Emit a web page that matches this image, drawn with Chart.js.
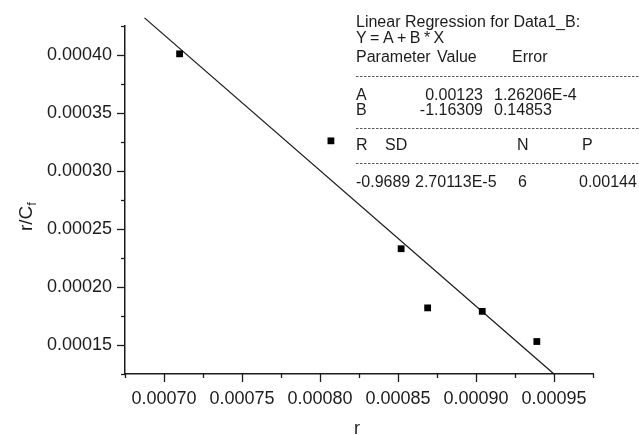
<!DOCTYPE html>
<html>
<head>
<meta charset="utf-8">
<script src="https://cdn.jsdelivr.net/npm/chart.js@4.4.0/dist/chart.umd.min.js"></script>
<style>
    html, body { margin: 0; padding: 0; background: #fff; }
</style>
</head>
<body>
<canvas id="regChart" width="639" height="435"></canvas>
<script>
// Measured data (r vs r/Cf)
const rValues = [0.000710, 0.000807, 0.000852, 0.000869, 0.000904, 0.000939];
const rcfValues = [0.000401, 0.000326, 0.000233, 0.000182, 0.000179, 0.000153];

// Fitted line end points
const fitX = [0.0006875, 0.00095];
const fitY = [0.000432, 0.000125];

// Axis ranges and labelled ticks
const xRange = [0.000675, 0.000975];
const yRange = [0.000125, 0.000425];
const tickStep = 0.000025;
const xTickLabels = ['0.00070', '0.00075', '0.00080', '0.00085', '0.00090', '0.00095'];
const yTickLabels = ['0.00015', '0.00020', '0.00025', '0.00030', '0.00035', '0.00040'];

// Regression box text
const regHeader = ['Linear Regression for Data1_B:', 'Y = A + B * X'];
const paramNames = ['A', 'B'];
const paramValues = ['0.00123', '-1.16309'];
const paramErrors = ['1.26206E-4', '0.14853'];
const statNames = ['R', 'SD', 'N', 'P'];
const statValues = ['-0.9689', '2.70113E-5', '6', '0.00144'];

const FONT = '"Liberation Sans", Arial, Helvetica, sans-serif';
const INK = '#1c1c1c';

function line(ctx, x1, y1, x2, y2) {
    ctx.beginPath();
    ctx.moveTo(x1, y1);
    ctx.lineTo(x2, y2);
    ctx.stroke();
}

// Draw tick marks, axis titles and the regression text
const decorPlugin = {
    id: 'decor',
    afterDraw(chart) {
        const ctx = chart.ctx;
        const area = chart.chartArea;
        const xs = chart.scales.x;
        const ys = chart.scales.y;

        ctx.save();
        ctx.strokeStyle = INK;
        ctx.lineWidth = 1.3;
        xs.ticks.forEach(t => {
            const px = Math.round(xs.getPixelForValue(t.value)) + 0.5;
            line(ctx, px, area.bottom, px, area.bottom + (t.label ? 8 : 4));
        });
        ys.ticks.forEach(t => {
            const py = Math.round(ys.getPixelForValue(t.value)) + 0.5;
            line(ctx, area.left, py, area.left - (t.label ? 8 : 4), py);
        });

        // axis titles
        ctx.fillStyle = INK;
        ctx.textBaseline = 'alphabetic';
        ctx.textAlign = 'center';
        ctx.font = '18px ' + FONT;
        ctx.fillText('r', (area.left + area.right) / 2 - 2, 434);

        ctx.save();
        ctx.translate(32, 231);
        ctx.rotate(-Math.PI / 2);
        ctx.textAlign = 'left';
        ctx.font = '19px ' + FONT;
        ctx.fillText('r/C', 0, 0);
        const w = ctx.measureText('r/C').width;
        ctx.font = '13px ' + FONT;
        ctx.fillText('f', w, 4);
        ctx.restore();

        // regression text block
        const x0 = 356;
        ctx.font = '16px ' + FONT;
        ctx.textAlign = 'left';
        ctx.fillText(regHeader[0], x0, 27);
        ctx.save();
        if ('letterSpacing' in ctx) ctx.letterSpacing = '-0.5px';
        ctx.fillText(regHeader[1], x0, 43);
        ctx.restore();
        ctx.fillText('Parameter', x0, 62);
        ctx.fillText('Value', 437, 62);
        ctx.fillText('Error', 512, 62);

        paramNames.forEach((name, i) => {
            const y = 100 + i * 15;
            ctx.textAlign = 'left';
            ctx.fillText(name, x0, y);
            ctx.textAlign = 'right';
            ctx.fillText(paramValues[i], 483, y);
            ctx.textAlign = 'left';
            ctx.fillText(paramErrors[i], 494, y);
        });

        const statX = [x0, 385, 517, 582];
        const valX = [x0, 415, 518, 579];
        statNames.forEach((s, i) => ctx.fillText(s, statX[i], 150));
        statValues.forEach((s, i) => ctx.fillText(s, valX[i], 187));

        ctx.strokeStyle = '#555';
        ctx.lineWidth = 1;
        ctx.setLineDash([2.5, 1.5]);
        [76.5, 128.5, 163.5].forEach(y => line(ctx, x0, y, 639, y));
        ctx.restore();
    }
};

function tickLabel(labels) {
    return v => {
        const s = Number(v).toFixed(5);
        return labels.includes(s) ? s : '';
    };
}

const ctx = document.getElementById('regChart').getContext('2d');
new Chart(ctx, {
    type: 'scatter',
    data: {
        datasets: [
            {
                label: 'Data1_B',
                data: rValues.map((r, i) => ({ x: r, y: rcfValues[i] })),
                pointStyle: 'rect',
                pointRadius: 4.8,
                pointBorderWidth: 0,
                backgroundColor: '#000',
                borderColor: '#000'
            },
            {
                label: 'Linear fit',
                data: fitX.map((x, i) => ({ x: x, y: fitY[i] })),
                showLine: true,
                pointRadius: 0,
                borderColor: INK,
                borderWidth: 1.3,
                clip: false
            }
        ]
    },
    options: {
        responsive: false,
        animation: false,
        layout: { padding: { top: 26, right: 46, left: 0, bottom: 0 } },
        plugins: {
            legend: { display: false },
            tooltip: { enabled: false }
        },
        scales: {
            x: {
                type: 'linear',
                min: xRange[0],
                max: xRange[1],
                afterFit: s => { s.height = 61; },
                grid: { display: false, drawTicks: false },
                border: { display: true, color: INK, width: 1.5 },
                ticks: {
                    stepSize: tickStep,
                    autoSkip: false,
                    maxRotation: 0,
                    padding: 14,
                    color: INK,
                    font: { family: FONT, size: 18 },
                    callback: tickLabel(xTickLabels)
                }
            },
            y: {
                type: 'linear',
                min: yRange[0],
                max: yRange[1],
                afterFit: s => { s.width = 125; },
                grid: { display: false, drawTicks: false },
                border: { display: true, color: INK, width: 1.5 },
                ticks: {
                    stepSize: tickStep,
                    autoSkip: false,
                    padding: 13,
                    color: INK,
                    font: { family: FONT, size: 18 },
                    callback: tickLabel(yTickLabels)
                }
            }
        }
    },
    plugins: [decorPlugin]
});
</script>
</body>
</html>
